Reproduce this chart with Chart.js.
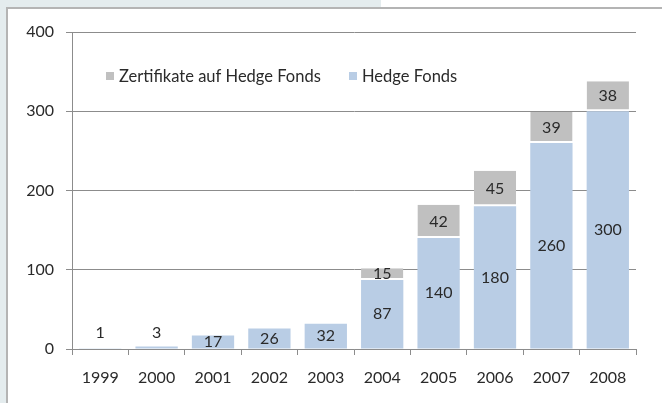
<!DOCTYPE html>
<html>
<head>
<meta charset="utf-8">
<script src="https://cdn.jsdelivr.net/npm/chart.js@4"></script>
<style>
  html, body { margin: 0; padding: 0; }
  body { width: 662px; height: 403px; background: #e4ecee; position: relative; overflow: hidden; }
  #top-white { position: absolute; left: 381px; top: 0; width: 281px; height: 7px; background: #fff; }
  #frame { position: absolute; left: 6px; top: 7px; width: 700px; height: 500px; background: #fff;
           border-left: 2px solid #b4b4b4; border-top: 2px solid #b4b4b4; }
  #wrap { position: absolute; left: 0; top: 0; width: 662px; height: 403px; }
</style>
</head>
<body>
<div id="top-white"></div>
<div id="frame"></div>
<div id="wrap"><canvas id="chart"></canvas></div>
<script>
const years = ['1999', '2000', '2001', '2002', '2003', '2004', '2005', '2006', '2007', '2008'];
const hedgeFonds = [1, 3, 17, 26, 32, 87, 140, 180, 260, 300];
const zertifikate = [0, 0, 0, 0, 0, 15, 42, 45, 39, 38];
const yTicks = [0, 100, 200, 300, 400];

const FONT = 'Lato, "Open Sans", sans-serif';
const TEXT = '#2a2a2a';
const AXIS = '#8c8c8c';

// value labels, centred in each segment (tiny bars get theirs above)
const valueLabels = {
  id: 'valueLabels',
  afterDatasetsDraw(chart) {
    const ctx = chart.ctx;
    ctx.save();
    ctx.font = '16px ' + FONT;
    ctx.fillStyle = TEXT;
    ctx.textAlign = 'center';
    ctx.textBaseline = 'middle';
    chart.data.datasets.forEach((ds, di) => {
      chart.getDatasetMeta(di).data.forEach((el, i) => {
        const v = ds.data[i];
        if (!v) return;
        const h = el.base - el.y;
        const ty = h < 6 ? el.base - 16 : (el.y + el.base) / 2;
        ctx.fillText(String(v), el.x, ty);
      });
    });
    ctx.restore();
  }
};

// legend drawn inside the plot area, Zertifikate first
const innerLegend = {
  id: 'innerLegend',
  afterDraw(chart) {
    const ctx = chart.ctx;
    const items = [
      { ds: chart.data.datasets[1], x: 106 },
      { ds: chart.data.datasets[0], x: 349 },
    ];
    ctx.save();
    ctx.font = '16.5px ' + FONT;
    ctx.textBaseline = 'middle';
    items.forEach(it => {
      ctx.fillStyle = it.ds.backgroundColor;
      ctx.fillRect(it.x, 72, 8, 8);
      ctx.fillStyle = TEXT;
      ctx.fillText(it.ds.label, it.x + 13, 77);
    });
    ctx.restore();
  }
};

new Chart(document.getElementById('chart'), {
  type: 'bar',
  data: {
    labels: years,
    datasets: [
      {
        label: 'Hedge Fonds',
        data: hedgeFonds,
        backgroundColor: '#b9cde5',
        borderWidth: 0,
      },
      {
        label: 'Zertifikate auf Hedge Fonds',
        data: zertifikate,
        backgroundColor: '#c0c0c0',
        borderColor: '#ffffff',
        borderWidth: { top: 0, left: 0, right: 0, bottom: 2 },
        borderSkipped: false,
      },
    ],
  },
  options: {
    responsive: true,
    maintainAspectRatio: false,
    animation: false,
    categoryPercentage: 1,
    barPercentage: 0.75,
    layout: { padding: { left: 0, top: 32, right: 26, bottom: 0 } },
    plugins: { legend: { display: false }, tooltip: { enabled: false } },
    scales: {
      x: {
        stacked: true,
        afterFit: s => { s.height = 54; },
        grid: { offset: true, drawOnChartArea: false, drawTicks: true, tickLength: 6, color: AXIS },
        border: { display: true, color: AXIS, width: 1 },
        ticks: { color: TEXT, font: { family: FONT, size: 16 }, padding: 13, maxRotation: 0 },
      },
      y: {
        stacked: true,
        min: 0,
        max: 400,
        afterFit: s => { s.width = 72; },
        afterBuildTicks: s => { s.ticks = yTicks.map(v => ({ value: v })); },
        grid: { color: AXIS, tickLength: 6, lineWidth: 1 },
        border: { display: true, color: AXIS, width: 1 },
        ticks: { color: TEXT, font: { family: FONT, size: 16 }, padding: 12 },
      },
    },
  },
  plugins: [valueLabels, innerLegend],
});
</script>
</body>
</html>
